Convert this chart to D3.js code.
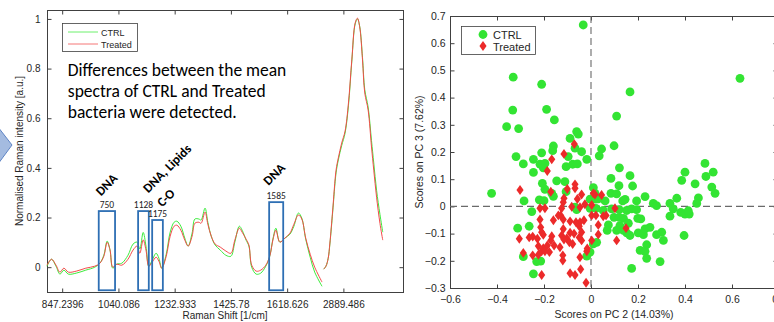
<!DOCTYPE html>
<html>
<head>
<meta charset="utf-8">
<script src="https://cdn.jsdelivr.net/npm/d3@7"></script>
<style>
  body { margin: 0; background: #fff; }
  svg { display: block; font-family: "Liberation Sans", Arial, sans-serif; }
</style>
</head>
<body>
<svg id="fig" width="774" height="322"></svg>
<script>
// ---------- spectra data (x = channel index along the concatenated spectrum) ----------
const specXRange = [0, 633];
const specYRange = [-0.1, 1.036];
const specTickIdx = [27, 127, 227, 327, 427, 527];
const specTickLabels = ["847.2396", "1040.086", "1232.933", "1425.78", "1618.626", "2889.486"];
const specYTicks = [0, 0.2, 0.4, 0.6, 0.8, 1];

// fingerprint region
const treatSpec1 = [
  [0,0.008],[8,0.032],[16,0.008],[23,-0.020],[30,-0.004],[38,-0.020],[52,-0.016],[69,-0.004],
  [85,0.004],[94,0.016],[101,0.044],[107,0.100],[112,0.070],[117,0],[124,0.012],[133,0.008],
  [144,0.032],[153,0.069],[160,0.085],[165,0.056],[171,0.110],[176,0.069],[181,0.004],[187,0.020],
  [194,0.040],[199,0.024],[204,-0.004],[212,0.044],[219,0.125],[226,0.165],[231,0.169],[238,0.149],
  [245,0.109],[251,0.085],[258,0.125],[263,0.177],[270,0.181],[274,0.177],[281,0.222],[286,0.173],
  [292,0.125],[299,0.093],[308,0.081],[318,0.065],[327,0.056],[334,0.109],[342,0.157],[347,0.141],
  [354,0.113],[359,0.089],[364,0.008],[372,-0.016],[380,-0.012],[389,0.008],[396,0.044],[402,0.113],
  [407,0.149],[414,0.101],[423,0.117],[432,0.137],[439,0.173],[447,0.210],[453,0.194],[460,0.117],
  [468,0.052],[476,0],[489,-0.060]
];
const ctrlSpec1 = [
  [0,0.004],[8,0.032],[16,0.004],[23,-0.028],[30,-0.012],[38,-0.028],[52,-0.024],[69,-0.012],
  [85,0],[94,0.016],[101,0.048],[107,0.105],[112,0.070],[117,-0.004],[124,0.012],[133,0.016],
  [144,0.048],[153,0.093],[160,0.101],[165,0.073],[171,0.140],[176,0.085],[181,0.004],[187,0.028],
  [194,0.056],[199,0.036],[204,-0.004],[212,0.052],[219,0.141],[226,0.181],[231,0.185],[238,0.165],
  [245,0.117],[251,0.085],[258,0.137],[263,0.194],[270,0.194],[274,0.190],[281,0.238],[286,0.181],
  [292,0.125],[299,0.089],[308,0.069],[318,0.048],[327,0.044],[334,0.101],[342,0.165],[347,0.149],
  [354,0.109],[359,0.085],[364,0],[372,-0.028],[380,-0.024],[389,0.004],[396,0.044],[402,0.117],
  [407,0.157],[414,0.101],[423,0.117],[432,0.133],[439,0.165],[447,0.218],[453,0.198],[460,0.113],
  [468,0.040],[476,-0.020],[489,-0.077]
];
// high-wavenumber region
const treatSpec2 = [
  [492,-0.008],[496,0.004],[500,0.036],[503,0.097],[508,0.230],[514,0.391],[518,0.440],[524,0.500],
  [530,0.548],[536,0.661],[542,0.835],[548,0.984],[552,1.003],[556,0.968],[561,0.835],[565,0.702],
  [571,0.633],[577,0.484],[581,0.391],[586,0.282],[592,0.177],[597,0.109]
];
const ctrlSpec2 = [
  [492,-0.008],[496,0.004],[500,0.036],[503,0.093],[508,0.222],[514,0.380],[518,0.432],[524,0.490],
  [530,0.540],[536,0.650],[542,0.830],[548,0.980],[552,1.000],[556,0.970],[561,0.845],[565,0.715],
  [571,0.645],[577,0.510],[581,0.420],[586,0.310],[592,0.213],[597,0.141]
];

// highlighted bands
const bandLabels = ["750", "1128", "1175", "1585"];
const bandStart  = [92, 162, 187, 395];
const bandEnd    = [121, 181, 206, 420];
const bandTop    = [0.226, 0.226, 0.19, 0.262];
const bandBottom = -0.093;
const assignText = ["DNA", "DNA, Lipids", "C-O", "DNA"];
const assignAt   = [[96, 0.285], [180, 0.297], [205, 0.240], [394, 0.327]];

const noteLines = ["Differences between the mean", "spectra of CTRL and Treated", "bacteria were detected."];

// ---------- PCA scores ----------
const pcXRange = [-0.6, 0.8];
const pcYRange = [-0.3, 0.7];
const pcXTicks = [-0.6, -0.4, -0.2, 0, 0.2, 0.4, 0.6, 0.8];
const pcYTicks = [-0.3, -0.2, -0.1, 0, 0.1, 0.2, 0.3, 0.4, 0.5, 0.6, 0.7];

const ctrlScores = [
  [-0.033,0.667],[-0.331,0.475],[-0.210,0.449],[-0.333,0.354],[-0.189,0.357],[-0.156,0.318],
  [-0.359,0.293],[-0.308,0.286],[-0.061,0.275],[-0.054,0.266],[-0.089,0.250],[-0.160,0.222],
  [-0.068,0.214],[-0.040,0.201],[-0.210,0.197],[-0.163,0.205],[-0.319,0.183],[-0.245,0.173],
  [-0.097,0.183],[-0.018,0.173],[0.109,0.332],[0.098,0.223],[0.045,0.211],[0.035,0.186],
  [-0.288,0.156],[-0.217,0.155],[-0.196,0.158],[-0.203,0.142],[-0.106,0.146],[-0.078,0.155],
  [-0.058,0.156],[-0.245,0.125],[0.121,0.142],[0.166,0.113],[0.085,0.103],[-0.146,0.094],
  [-0.111,0.091],[-0.207,0.085],[0.119,0.076],[0.177,0.075],[0.010,0.069],[-0.423,0.048],
  [-0.196,0.063],[-0.167,0.048],[-0.106,0.054],[0.085,0.048],[0.109,0.046],[0.230,0.036],
  [0.145,0.026],[0.135,0.020],[-0.285,0.020],[-0.220,0.024],[-0.200,0.021],[-0.004,0.027],
  [0.020,0.027],[0.060,0.020],[0.194,0.020],[0.265,0.011],[0.336,0.011],[0.365,0.030],
  [-0.160,0.037],[0.031,0.028],[0.279,0.003],[0.350,-0.009],[0.336,-0.036],[-0.252,-0.019],
  [-0.068,-0.003],[-0.061,-0.012],[-0.004,-0.007],[0.021,-0.007],[0.052,-0.015],[0.088,-0.009],
  [0.098,-0.040],[0.120,-0.012],[0.120,-0.040],[0.138,-0.044],[0.152,-0.015],[0.173,-0.009],
  [0.194,-0.012],[0.199,-0.044],[0.212,-0.046],[0.074,-0.068],[0.123,-0.071],[0.152,-0.097],
  [0.166,-0.107],[0.201,-0.097],[0.223,-0.104],[0.230,-0.083],[0.251,-0.077],[0.279,-0.104],
  [0.301,-0.095],[0.308,-0.125],[0.237,-0.141],[0.209,-0.162],[0.230,-0.165],[0.237,-0.191],
  [0.294,-0.203],[0.173,-0.228],[-0.312,-0.080],[-0.263,-0.073],[0.024,-0.132],[-0.004,-0.168],
  [-0.018,-0.183],[-0.288,-0.185],[-0.231,-0.203],[-0.214,-0.201],[-0.245,-0.248],[0.634,0.471],
  [0.166,0.421],[0.485,0.158],[0.400,0.126],[0.386,0.096],[0.520,0.126],[0.489,0.110],
  [0.443,0.083],[0.514,0.071],[0.528,0.048],[0.457,0.031],[0.450,0.011],[0.382,-0.022],
  [0.400,-0.028],[0.418,-0.028],[0.414,-0.016],[0.159,-0.062],[0.138,-0.088],[0.109,-0.088],
  [0.069,-0.088],[0.010,-0.138],[0.017,0.048],[0.396,-0.107]
];
const treatScores = [
  [-0.071,0.229],[-0.115,0.193],[-0.167,0.173],[-0.186,0.130],[-0.302,0.060],[-0.068,0.081],
  [-0.068,0.067],[-0.101,0.064],[-0.171,0.054],[-0.040,0.044],[0.010,0.048],[0.017,0.044],
  [0.045,0.042],[-0.058,0.027],[-0.115,0.030],[-0.118,0.015],[-0.026,0.008],[0.003,0.005],
  [-0.082,-0.001],[-0.217,-0.007],[-0.196,-0.007],[-0.125,-0.007],[0.102,-0.007],[-0.129,-0.033],
  [-0.047,-0.003],[0.003,-0.033],[0.021,-0.033],[0.052,-0.036],[0.064,-0.033],[-0.217,-0.048],
  [-0.214,-0.077],[-0.160,-0.051],[-0.139,-0.033],[-0.118,-0.048],[-0.089,-0.055],[-0.064,-0.058],
  [-0.047,-0.058],[-0.030,-0.051],[0.031,-0.068],[0.149,-0.080],[-0.210,-0.095],[-0.203,-0.104],
  [-0.118,-0.083],[-0.125,-0.107],[-0.089,-0.097],[-0.072,-0.100],[-0.050,-0.073],[-0.040,-0.095],
  [-0.305,-0.119],[-0.263,-0.114],[-0.248,-0.111],[-0.228,-0.119],[-0.167,-0.110],[-0.171,-0.125],
  [-0.103,-0.117],[-0.092,-0.132],[-0.078,-0.138],[-0.115,-0.122],[-0.050,-0.114],[-0.040,-0.125],
  [0.003,-0.125],[0.109,-0.125],[-0.224,-0.146],[-0.203,-0.154],[-0.186,-0.144],[-0.177,-0.168],
  [-0.157,-0.144],[-0.132,-0.150],[-0.288,-0.171],[-0.248,-0.180],[-0.224,-0.178],[-0.210,-0.165],
  [-0.196,-0.165],[-0.120,-0.180],[-0.120,-0.199],[-0.047,-0.187],[-0.016,-0.155],[-0.018,-0.165],
  [-0.044,-0.231],[-0.210,-0.252],[-0.089,-0.246],[-0.068,-0.252],[-0.021,-0.281],[0.031,-0.103]
];

// ---------- styles ----------
const greenLine = "#3cec3c", redLine = "#f34b4b";
const greenDot = "#33e433", redDot = "#ec2a2a";
const axisCol = "#404040", textCol = "#262626";
const slideFont = "Carlito, Lato, 'Open Sans', sans-serif";

const svg = d3.select("#fig");

// blue arrow from the slide, cut by the left edge
svg.append("path")
  .attr("d", "M-2,127 L12,145 L-2,164 Z")
  .attr("fill", "#a4bbe0").attr("stroke", "#5f84c4").attr("stroke-width", 1);

// ================= left panel: spectra =================
const L = {left: 47, top: 10, right: 403, bottom: 292};
const xL = d3.scaleLinear().domain(specXRange).range([L.left, L.right]);
const yL = d3.scaleLinear().domain(specYRange).range([L.bottom, L.top]);
const gL = svg.append("g");

gL.append("rect")
  .attr("x", L.left + 0.5).attr("y", L.top + 0.5)
  .attr("width", L.right - L.left).attr("height", L.bottom - L.top)
  .attr("fill", "#fff").attr("stroke", axisCol).attr("stroke-width", 1);

function styleAxis(g, size) {
  g.select(".domain").remove();
  g.selectAll(".tick line").attr("stroke", axisCol);
  g.selectAll(".tick text").attr("fill", textCol).style("font-size", size + "px");
}

gL.append("g").attr("transform", `translate(0,${L.bottom + 0.5})`)
  .call(d3.axisBottom(xL).tickValues(specTickIdx).tickFormat((d, i) => specTickLabels[i])
    .tickSizeInner(-4).tickSizeOuter(0).tickPadding(8))
  .call(g => styleAxis(g, 10));
gL.append("g").attr("transform", `translate(0,${L.top + 0.5})`)
  .call(d3.axisTop(xL).tickValues(specTickIdx).tickFormat("").tickSizeInner(-4).tickSizeOuter(0))
  .call(g => styleAxis(g, 10));
gL.append("g").attr("transform", `translate(${L.left + 0.5},0)`)
  .call(d3.axisLeft(yL).tickValues(specYTicks).tickFormat(d3.format("~g"))
    .tickSizeInner(-4).tickSizeOuter(0).tickPadding(7))
  .call(g => styleAxis(g, 10));
gL.append("g").attr("transform", `translate(${L.right + 0.5},0)`)
  .call(d3.axisRight(yL).tickValues(specYTicks).tickFormat("").tickSizeInner(-4).tickSizeOuter(0))
  .call(g => styleAxis(g, 10));

const specLine = d3.line().x(d => xL(d[0])).y(d => yL(d[1])).curve(d3.curveCatmullRom.alpha(0.5));
[[ctrlSpec1, greenLine], [ctrlSpec2, greenLine], [treatSpec1, redLine], [treatSpec2, redLine]]
  .forEach(([data, col]) => {
    gL.append("path").datum(data).attr("d", specLine)
      .attr("fill", "none").attr("stroke", col).attr("stroke-width", 1);
  });

// bands
bandLabels.forEach((lab, i) => {
  const x0 = xL(bandStart[i]), x1 = xL(bandEnd[i]);
  gL.append("rect")
    .attr("x", x0).attr("y", yL(bandTop[i]))
    .attr("width", x1 - x0).attr("height", yL(bandBottom) - yL(bandTop[i]))
    .attr("fill", "none").attr("stroke", "#2e6fb4").attr("stroke-width", 1.8);
  gL.append("text")
    .attr("x", (x0 + x1) / 2).attr("y", yL(bandTop[i]) - 3)
    .attr("text-anchor", "middle")
    .style("font-family", slideFont)
    .style("font-size", "9.5px").attr("fill", "#222").text(lab);
});
assignText.forEach((t, i) => {
  const px = xL(assignAt[i][0]), py = yL(assignAt[i][1]);
  gL.append("text")
    .attr("transform", `translate(${px},${py}) rotate(-45)`)
    .style("font-family", slideFont)
    .style("font-size", "13px").style("font-weight", "bold")
    .attr("fill", "#000").text(t);
});

// note
noteLines.forEach((t, i) => {
  gL.append("text")
    .attr("x", xL(37)).attr("y", 76 + i * 21)
    .style("font-family", slideFont)
    .style("font-size", "17.5px").attr("fill", "#000").text(t);
});

// legend
const lg = gL.append("g").attr("transform", "translate(62,23)");
lg.append("rect").attr("x", 0.5).attr("y", 0.5).attr("width", 75).attr("height", 28)
  .attr("fill", "#fff").attr("stroke", axisCol).attr("stroke-width", 0.8);
[["CTRL", greenLine], ["Treated", redLine]].forEach(([t, c], i) => {
  lg.append("line").attr("x1", 6).attr("x2", 36).attr("y1", 9 + i * 12).attr("y2", 9 + i * 12)
    .attr("stroke", c).attr("stroke-width", 1).attr("opacity", 0.75);
  lg.append("text").attr("x", 39).attr("y", 12.5 + i * 12)
    .style("font-size", "9px").attr("fill", textCol).text(t);
});

gL.append("text")
  .attr("transform", `translate(23,${(L.top + L.bottom) / 2}) rotate(-90)`)
  .attr("text-anchor", "middle").style("font-size", "10px").attr("fill", textCol)
  .text("Normalised Raman intensity [a.u.]");
gL.append("text")
  .attr("x", (L.left + L.right) / 2).attr("y", 319)
  .attr("text-anchor", "middle").style("font-size", "10px").attr("fill", textCol)
  .text("Raman Shift [1/cm]");

// ================= right panel: PCA scores =================
const R = {left: 450, top: 16, right: 779, bottom: 288};
const xR = d3.scaleLinear().domain(pcXRange).range([R.left, R.right]);
const yR = d3.scaleLinear().domain(pcYRange).range([R.bottom, R.top]);
const gR = svg.append("g");

gR.append("rect")
  .attr("x", R.left + 0.5).attr("y", R.top + 0.5)
  .attr("width", R.right - R.left).attr("height", R.bottom - R.top)
  .attr("fill", "#fff").attr("stroke", axisCol).attr("stroke-width", 1);

gR.append("g").attr("transform", `translate(0,${R.bottom + 0.5})`)
  .call(d3.axisBottom(xR).tickValues(pcXTicks).tickFormat(d3.format("~g"))
    .tickSizeInner(-4).tickSizeOuter(0).tickPadding(7))
  .call(g => styleAxis(g, 10.5));
gR.append("g").attr("transform", `translate(0,${R.top + 0.5})`)
  .call(d3.axisTop(xR).tickValues(pcXTicks).tickFormat("").tickSizeInner(-4).tickSizeOuter(0))
  .call(g => styleAxis(g, 10.5));
gR.append("g").attr("transform", `translate(${R.left + 0.5},0)`)
  .call(d3.axisLeft(yR).tickValues(pcYTicks).tickFormat(d3.format("~g"))
    .tickSizeInner(-4).tickSizeOuter(0).tickPadding(5))
  .call(g => styleAxis(g, 10.5));
gR.append("g").attr("transform", `translate(${R.right + 0.5},0)`)
  .call(d3.axisRight(yR).tickValues(pcYTicks).tickFormat("").tickSizeInner(-6).tickSizeOuter(0))
  .call(g => styleAxis(g, 10.5));

// zero lines
gR.append("line").attr("x1", xR(0)).attr("x2", xR(0)).attr("y1", R.top).attr("y2", R.bottom)
  .attr("stroke", "#6a6a6a").attr("stroke-width", 1.1).attr("stroke-dasharray", "7,4");
gR.append("line").attr("x1", R.left).attr("x2", R.right).attr("y1", yR(0)).attr("y2", yR(0))
  .attr("stroke", "#6a6a6a").attr("stroke-width", 1.1).attr("stroke-dasharray", "7,4");

const tallDiamond = {
  draw(ctx, size) {
    const h = Math.sqrt(size) * 0.62, w = h * 0.72;
    ctx.moveTo(0, -h); ctx.lineTo(w, 0); ctx.lineTo(0, h); ctx.lineTo(-w, 0); ctx.closePath();
  }
};
const diamondPath = d3.symbol().type(tallDiamond).size(64)();

gR.append("g").selectAll("circle").data(ctrlScores).join("circle")
  .attr("cx", d => xR(d[0])).attr("cy", d => yR(d[1])).attr("r", 4.4)
  .attr("fill", greenDot);
gR.append("g").selectAll("path").data(treatScores).join("path")
  .attr("transform", d => `translate(${xR(d[0])},${yR(d[1])})`)
  .attr("d", diamondPath).attr("fill", redDot);

// legend
const lr = gR.append("g").attr("transform", "translate(461,26)");
lr.append("rect").attr("x", 0.5).attr("y", 0.5).attr("width", 74).attr("height", 28)
  .attr("fill", "#fff").attr("stroke", axisCol).attr("stroke-width", 0.8);
lr.append("circle").attr("cx", 22).attr("cy", 8.5).attr("r", 4.4).attr("fill", greenDot);
lr.append("path").attr("transform", "translate(22,20)").attr("d", diamondPath).attr("fill", redDot);
lr.append("text").attr("x", 32).attr("y", 12.5).style("font-size", "11px").attr("fill", textCol).text("CTRL");
lr.append("text").attr("x", 32).attr("y", 24.5).style("font-size", "11px").attr("fill", textCol).text("Treated");

gR.append("text")
  .attr("transform", `translate(423,${(R.top + R.bottom) / 2}) rotate(-90)`)
  .attr("text-anchor", "middle").style("font-size", "10.5px").attr("fill", textCol)
  .text("Scores on PC 3 (7.62%)");
gR.append("text")
  .attr("x", 614).attr("y", 318)
  .attr("text-anchor", "middle").style("font-size", "10.5px").attr("fill", textCol)
  .text("Scores on PC 2 (14.03%)");
</script>
</body>
</html>
